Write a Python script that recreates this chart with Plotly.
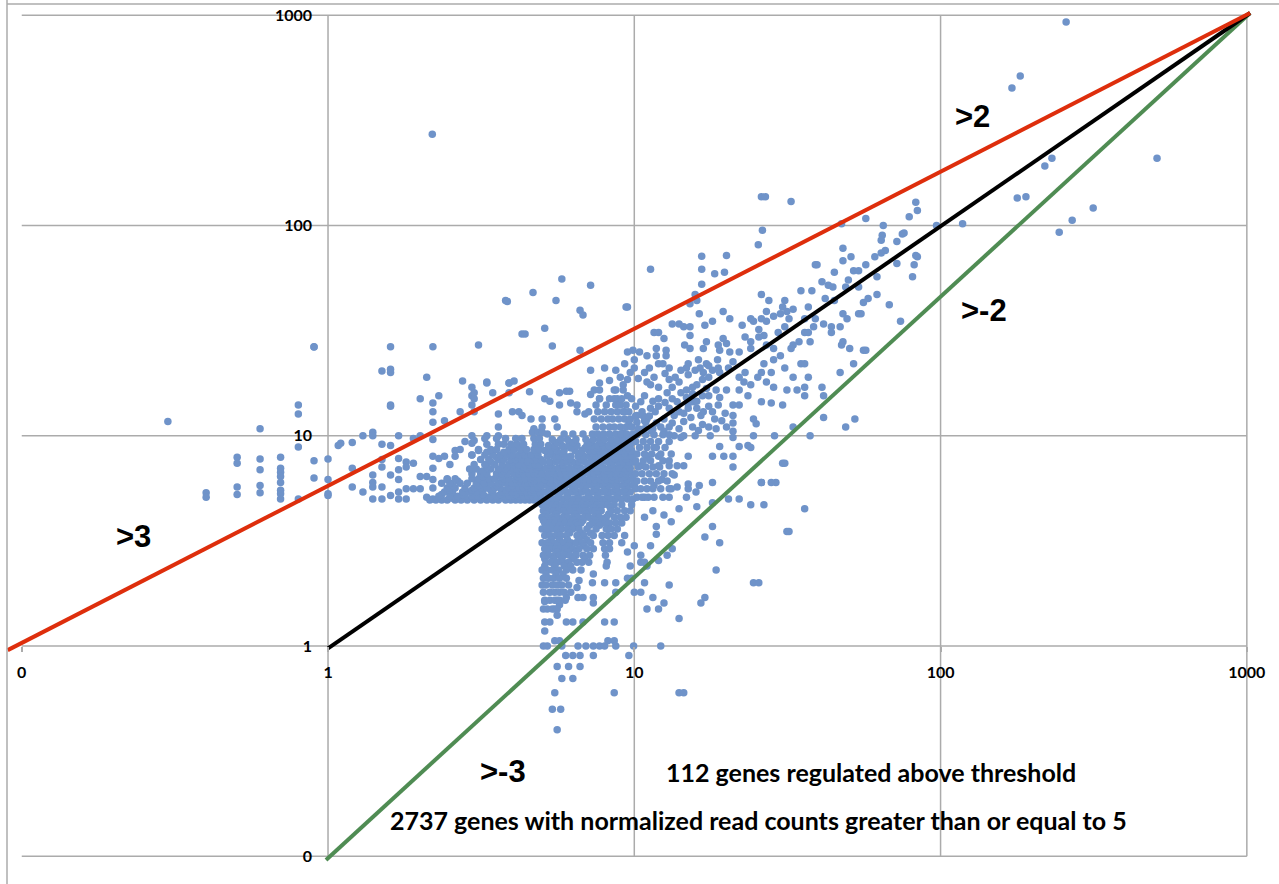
import plotly.graph_objects as go

tick_vals = [0.1, 1, 10, 100, 1000]
tick_text = ["0", "1", "10", "100", "1000"]

outliers = [(257,929),(182,514),(171,451),(509,209),(231,209),(219,192),(190,137),(178,135),(315,121),(269,106),(244,93),
 (118,102),(97,100),(83,129),(84,118),(79,110),(75,91),(83,72),(2.19,272),(26,137),(26.8,137),(32.5,130)]

upper_right = [(11.3,62),(16.6,71.5),(20,72),(16.6,62),(18.3,59),(19.7,60),(16.6,52.5),(15.8,47),(15.2,42.5),(16,44),(9.5,41),
 (26.2,95),(25.4,81),(47.5,102),(57,108),(65,100),(76,92),(64.5,90),(64,85),(72,84),(66,76),(64,74),(61,71),(48,78),(51,71),(48,68),
 (84,71),(82,65),(72,66),(81,57),(57,65),(39,65),(39.5,65),(45,60),(52,61),(54,61),(62,57),(50,55),(41,54),(43,52),(44.5,51),(49,51),(54,51),
 (35,49),(38,49),(26,47),(27.5,44),(31,44),(30.5,41),(42,45),(45,44),(62,47),(58,45),(56,43),(68,42),(37,41),(33,40),(31.5,39),(30,38),(27,39),
 (28.5,37),(19.5,39),(16.3,38),(20.5,36),(24,36),(26,36),(36,36),(39,36),(32,36),(48,38),(49.5,36),(54,38),(55,38),(18,35),(17,33.5),(13.3,34),(14,34),
 (14.5,33),(15.2,33),(22.5,33.5),(24.5,35),(27,35),(31,33),(38.5,33),(36,31),(37,31),(41.5,34),(44,33),(44,31),(47,33),(74,35),(25.5,32),(26.5,30),(29.5,31),
 (23,29.5),(25.5,29.5),(24,28),(27,27),(11.6,31),(12,31),(12.5,29),(15.2,30),(17.2,28),(19.5,29),(18.8,27),(20,27.5),(34.5,28),(37.5,28),(33,27),(32.5,26),
 (48,28),(47.5,27),(50.5,26),(56,25.5),(57,25.5),(9.9,25.5),(11.8,26),(12.7,25.5),(14.6,27),(15.2,26),(16.8,26),(19,25.5),(20.5,25),(22,25),(24,26),(28.5,26),
 (30,24),(11,24),(11.8,24),(12.7,24),(16.2,23),(17.2,22),(18.7,23),(21,22.5),(26.5,22),(28.5,23),(35,22),(36,22),(52,22),(31,21),(47,20),(11.2,21),(12,22),(12.4,22),
 (13,21),(14.8,21),(9.3,22),(10,23),(15,22),(18,20.5),(16.8,20),(20.3,21),(19,20),(23,20),(26,20),(28,20),(33,19),(37,19),(25.3,19),(27,18),(22,19),(22.8,18),(24,17.5),
 (28.5,17),(36,17),(41,17),(31.5,16.5),(34,16.5),(41.5,15.5),(36,15.5),(22,16.5),(23.5,15.5),(26,14.5),(28,14.3),(30.5,14),(41.5,12.2),(52.5,12),(49,11),(33,11),(24.5,12),(25,11.4),
 (28.7,10),(37.5,10),(24.5,10),(30.5,7.4),(31,7.4),(26,6),(29,6),(22,5)]

middle_right = [(9.5,18.5),(10.3,18.7),(11,18),(11.3,17.5),(12,17),(13,18.5),(14,18),(13.3,17),(14.8,16.5),(15.5,17),(16,17.5),(16.7,18.5),(17.5,19),(18.5,16.5),(20,16.5),(19,15.2),
 (10.8,15.5),(9.5,15.5),(12,15),(13.3,15),(14.8,15.2),(16.7,15.5),(17.5,15.5),(17.5,13.8),(18.8,14),(21,14),(22,14),(18,13),(21,12.5),(18.3,12),(21,11.5),(20,11),(21,10.5),(21,9.8),
 (17.7,10),(15.8,10),(14.5,10),(13.5,10),(12,13.8),(11.3,13.5),(13,13.5),(10.1,13.8),(10.6,13),(11.7,13),(12.5,12),(14,13),(15,13.5),(16,13.5),(16.5,12.5),(15.3,12.2),(14.5,11.7),
 (13.3,11.5),(12.2,11),(15.5,11),(16.7,11.3),(17.5,11),(14,10.8),(11.4,10.5),(10.6,10.7),(9.3,13),(9.6,11.5),(9.2,10.3),
 (19,8.9),(22,8.9),(23.5,9),(24,8.8),(18,8),(19.6,8),(21,8),(21,7.1),(18,6),(16.3,5.8),(15,8),(14.5,7.2),(13.8,7.2),(13,7.2),(12,8),(11.6,8.8),(14.2,9.8),(15,5.9),(15,5.6),(13.5,6.5),
 (12,7.2),(12.3,6.2),(11,8),(10.5,7.2),(9.8,7.5),(9.3,6.7),(10,5.8),(11.6,5.8),(13.2,5.6),(13.8,5.7),(15.9,5.4),(10.8,5.1),(13,5.1),(14.8,5.1)]

upper_fill = [(10.5,14.5),(11.5,14.6),(12.6,14.4),(13.8,14.5),(15.6,14.5),(10.2,12.5),(11,12),(13.5,12.5),(14.5,12.8),(16.8,13),(12.8,16),(14.2,16),(15.5,15.8),(17.2,16.8),(13.6,19),(15,19.5),
 (15.8,20.5),(14.2,20.5),(16.4,21),(17.5,21.5),(18.8,21),(10.8,20),(12.6,19.8),(11.6,19),(9.2,17.5),(9,19),(10,21),(10.8,11.8),(11.8,11.5),(16.2,10.6),(18.5,10.8),(19.3,11.8),(19.8,12.8),(16,14.6),(15,14.2),(13,11),(12.5,10.5)]

lower_right = [(24.5,2),(25.5,2),(31.5,3.5),(32,3.5),(36,4.5),(18.5,2.3),(17,3.3),(18,3.7),(19,3.1),(17,1.7),(16.5,1.6),(14,1.35),(14,0.6),(14.5,0.6),(12.2,1),(11,1.5),(12.5,1.6),(13,1.95),
 (13.3,2.9),(12,2.55),(11,2.4),(11.3,3),(10.5,2.5),(26,6),(28,6),(20.3,5),(24,4.7),(26.5,4.7),(14,4.5),(12.5,4.2),(11.5,4.4),(13.2,3.9),(10.8,4.1),(11.8,3.7),(16,4.6),(18,4.8)]

low_tail = [(5.6,.4),(5.4,.5),(5.75,.5),(5.5,.6),(8.6,.6),(5.8,.7),(6.3,.7),(5.6,.8),(6.1,.8),(6.65,.8),(5.97,.9),(6.3,.9),(6.65,.9),(7.35,.9),(9.6,.9),
 (5.05,1),(5.2,1),(5.8,1),(6.55,1),(6.95,1),(7.35,1),(7.7,1),(8,1),(8.7,1),(9.95,1),(5.5,1.06),(5.7,1.06),(8.2,1.06),(8.6,1.06),(5.1,1.18),(5.1,1.3),(5.3,1.3),(6,1.3),(6.3,1.3),(6.8,1.3),(8,1.3),(8.6,1.3),(5.6,1.4),
 (5.05,1.5),(5.5,1.5),(5.7,1.57),(5.6,1.65),(5.1,1.63),(6,1.7),(6.55,1.7),(6.8,1.7),(7.35,1.7),(7.35,1.6),(8.7,1.8),(10,1.8),(10.5,1.8),(11.5,1.7),(12,1.5),(10.8,2),(8.7,2),(8,2),(7.3,2),(6.5,1.9),(6.6,2.05),(9.5,2.1),(9.8,2.1),
 (9.7,2.4),(7.35,2.2),(8.1,2.4),(10.5,2.7),(10.8,2.5),(10,3),(9.5,2.8),(11.8,3.4),(12.8,2.7)]

left_tail = [(.3,11.7),(.4,5.35),(.4,5.1),(.505,7.9),(.505,7.4),(.505,5.7),(.505,5.25),(.6,10.8),(.6,7.75),(.6,6.9),(.6,5.8),(.6,5.35),(.7,7.9),(.7,7),(.7,6.7),(.7,6.4),(.7,6),(.7,5.5),(.7,5.3),(.7,5),
 (.8,14),(.8,12.7),(.8,8.85),(.8,5),(.9,26.4),(.9,7.6),(.9,6.3),(1,7.75),(1,6.2),(1,5.2),(1.08,9),(1,5.3),(1.1,9.2),(1.2,9.3),(1.2,7),(1.2,5.7),(1.3,10),(1.3,5.4),(1.4,10.4),(1.4,10),(1.4,6.5),(1.4,6),(1.4,5.7),(1.4,5),
 (1.5,9.1),(1.5,7.7),(1.5,7.1),(1.5,5.7),(1.5,5),(1.6,14),(1.6,9),(1.6,6.5),(1.6,5.2),(1.7,10),(1.7,7.8),(1.7,6.9),(1.7,6.2),(1.7,5.4),(1.7,5),(1.8,7.5),(1.8,7.1),(1.8,5.6),(1.8,5),(1.9,7.4),(1.9,5.6),(1.9,9.7),
 (2,15),(2,10),(2,6.4),(2,5.6),(2.1,6.4),(2.1,5.1),(2.2,14.3),(2.2,13),(2.2,11.6),(2.2,9.6),(2.2,8),(2.2,7),(2.2,6.2),(2.2,5),(2.3,7.8),(2.4,11.8),(2.4,8),(2.5,7.3),(2.45,6.2),(2.6,8.5),(2.6,8),(2.7,13),(2.7,8.6),
 (2.95,17),(2.95,15.5),(2.95,14),(2.8,9.4),(2.95,10),(2.95,9.2),(3,9.5),(2.95,8.1),(3.1,8.5),(3.3,18),(3.45,16),(3.6,12.7),(3.6,11),(3.3,10),(3.6,10),(3.9,17.8),(3.9,16),(4,13),(4.2,13),(4.3,12.5),(4.55,16.2),(4.6,12),(4.7,10.8),
 (5.1,15),(5.3,14.6),(5.7,16),(6,16.3),(6.15,16.3),(5.7,14),(6.2,14.3),(6.5,14),(5,12),(5.5,12),(6.5,13),(6.9,12.7),(7.4,16.5),(7.7,16.5)]

upper_left = [(5.8,55.6),(4.67,48),(3.8,44),(3.85,43.5),(5.55,44),(7.2,52),(9.4,41),(6.65,39.5),(6.8,37.5),(4.3,30.5),(4.4,30.5),(5.1,32.5),(5.4,26.7),(3.1,27),(2.2,26.5),(1.6,26.5),(.9,26.5),(6.65,25.5),(2.1,19),
 (1.6,20.7),(1.5,20.3),(1.6,20),(2.75,18.2),(3.3,17.8),(3.9,17.8),(4.05,18.2),(3,16),(3,15),(2.3,15.5),(1.6,13.8),(3,13),(7.7,17.8),(8.3,18.3),(8.8,15),(9.7,20),(9.5,25),(8.7,20.5),(7.2,20.5),(8,21),(10.4,25),(8.7,16.5),(7.7,15),(7.2,15.7)]

hband_y = [4.95,5.05,5.15,5.25,5.4,5.5,5.65,5.8,5.95,6.1,6.25,6.4,6.6,6.8,6.95,7.1,7.3,7.5,7.7,7.9,8.1,8.35,8.6,9.1,9.7,10.4]
hband_x = [
 [2.15,2.25,2.35,2.45,2.6,2.72,2.85,3.0,3.15,3.3,3.45,3.6,3.8,3.95,4.1,4.25,4.4,4.55,4.7,4.85],
 [2.55,3.05,3.5,4.0,4.5],
 [2.3,2.5,2.65,2.8,2.95,3.1,3.25,3.4,3.55,3.75,3.9,4.05,4.2,4.35,4.5,4.65,4.8,4.95],
 [2.35,2.75,3.2,3.65,4.1,4.6],
 [2.4,2.55,2.75,2.9,3.05,3.2,3.45,3.7,3.85,4.0,4.15,4.3,4.45,4.6,4.75,4.9],
 [2.5,2.95,3.4,3.8,4.25,4.7],
 [2.2,2.45,2.6,2.8,3.0,3.15,3.3,3.5,3.65,3.9,4.05,4.2,4.35,4.5,4.7,4.85],
 [2.55,3.1,3.55,4.0,4.45,4.9],
 [2.35,2.5,2.7,2.85,3.05,3.25,3.4,3.6,3.8,4.0,4.15,4.3,4.5,4.65,4.8,4.95],
 [2.65,3.2,3.7,4.2,4.7],
 [2.45,2.6,2.95,3.1,3.35,3.5,3.75,3.9,4.1,4.25,4.4,4.6,4.75,4.9],
 [3.2,3.65,4.15,4.65],
 [2.95,3.15,3.3,3.55,3.7,3.85,4.05,4.2,4.35,4.55,4.7,4.85],
 [3.2,3.75,4.25,4.75],
 [2.9,3.05,3.4,3.6,3.8,3.95,4.15,4.3,4.5,4.65,4.8,4.95],
 [3.3,3.85,4.35,4.85],
 [3.0,3.25,3.5,3.7,3.9,4.05,4.2,4.4,4.55,4.75,4.9],
 [3.4,4.0,4.5],
 [3.15,3.35,3.6,3.75,3.95,4.1,4.3,4.5,4.65,4.8,4.95],
 [3.55,4.15,4.75],
 [2.95,3.25,3.45,3.65,3.85,4.0,4.2,4.4,4.6,4.85],
 [3.3,3.75,4.3,4.8],
 [3.1,3.4,3.55,3.9,4.05,4.25,4.45,4.7,4.9],
 [3.3,3.6,3.75,3.95,4.15,4.35,4.75,4.95],
 [3.25,3.55,3.8,4.1,4.3,4.7,4.9],
 [4.65,4.85,5.0],
]

core_y = [5.0,5.2,5.4,5.6,5.8,6.0,6.2,6.4,6.6,6.8,7.0,7.25,7.5,7.75,8.0,8.25,8.5,8.75,9.0,9.3,9.6,10.2,11,12,13,14,15,16.5]
core_x = [
 [5.0,5.2,5.4,5.6,5.85,6.1,6.35,6.6,6.9,7.2,7.5,7.8,8.1,8.4,8.7,9.1,9.5,9.9],
 [5.25,5.65,6.05,6.55,7.1,7.6,8.2,8.8,9.4],
 [5.1,5.3,5.5,5.75,6.0,6.25,6.5,6.75,7.05,7.35,7.65,7.95,8.3,8.6,8.95,9.3,9.7],
 [5.4,5.9,6.4,6.9,7.45,8.05,8.7,9.35],
 [5.0,5.2,5.45,5.7,5.95,6.2,6.45,6.7,7.0,7.3,7.6,7.9,8.25,8.55,8.85,9.2,9.6,9.95],
 [5.3,5.8,6.3,6.8,7.4,8,8.65,9.3],
 [5.1,5.35,5.6,5.85,6.1,6.35,6.6,6.85,7.15,7.45,7.75,8.1,8.45,8.8,9.15,9.5,9.9],
 [5.2,5.7,6.25,6.7,7.3,7.9,8.5,9.3],
 [5.0,5.25,5.5,5.75,6.0,6.25,6.5,6.8,7.1,7.4,7.7,8.0,8.35,8.7,9.05,9.4,9.8],
 [5.4,5.95,6.45,7.0,7.55,8.15,8.8,9.5],
 [5.15,5.4,5.65,5.9,6.15,6.4,6.7,7.0,7.3,7.6,7.95,8.3,8.6,8.9,9.3,9.7],
 [5.3,5.85,6.5,7.1,7.7,8.4,9.0,9.5],
 [5.05,5.3,5.55,5.8,6.05,6.3,6.6,6.9,7.2,7.55,7.85,8.2,8.5,8.85,9.2,9.6,9.95],
 [5.6,6.15,6.7,7.35,8.0,8.65,9.4],
 [5.2,5.45,5.7,5.95,6.2,6.55,6.85,7.15,7.5,7.8,8.1,8.45,8.75,9.1,9.5,9.85],
 [5.3,5.85,6.6,7.3,7.95,8.55,9.3],
 [5.1,5.35,5.6,5.9,6.4,6.75,7.1,7.4,7.7,8.05,8.35,8.7,9.0,9.4,9.8],
 [5.5,6.2,6.9,7.55,8.2,8.85,9.55],
 [5.25,5.5,5.8,6.1,6.5,7.0,7.3,7.6,7.9,8.25,8.6,8.95,9.3,9.7],
 [5.6,6.3,7.15,7.8,8.5,9.15,9.8],
 [5.4,5.75,6.05,6.45,6.95,7.35,7.7,8.0,8.4,8.8,9.2,9.6],
 [5.2,5.9,6.3,6.8,7.3,7.6,7.95,8.3,8.7,9.05,9.45,9.9],
 [5.0,5.6,7.5,7.9,8.3,8.6,9.0,9.4,9.8],
 [7.4,7.8,8.2,8.5,8.9,9.3,9.7],
 [7.1,7.6,8.0,8.4,8.8,9.2,9.6],
 [7.5,8.1,8.7,9.0,9.4],
 [7.7,8.3,8.6,9.1,9.8],
 [8.6,9.2],
]

right_y = [5.1,5.6,6.1,6.6,7.1,7.6,8.2,8.8,9.4,10.1,10.8,11.6,12.4]
right_x = [
 [10.2,10.6,11.1,11.6,12.4],[10.1,10.5,11,11.5,12.2,13],[10.2,10.8,11.3,12,12.8],[10.1,10.6,11.2,11.8,12.5,13.3],
 [10.3,10.9,11.5,12.1],[10.1,10.7,11.3,12.4,13],[10.2,10.8,11.4,12.2,13.2],[10.4,11,11.8,12.6],[10.1,10.7,11.3,12,13],
 [10.2,10.9,11.6,12.4,13],[10.3,10.8,11.5],[10.2,10.9],[10.1,10.7,11.2],
]

vband_y = [4.7,4.55,4.4,4.25,4.1,3.95,3.85,3.75,3.6,3.45,3.35,3.2,3.1,3,2.9,2.8,2.7,2.6,2.5,2.4,2.3,2.2,2.1,1.95,1.8,1.65,1.5]
vband_x = [
 [5.0,5.2,5.4,5.6,5.8,6.0,6.25,6.5,6.75,7.0,7.3,7.55,7.9,8.2,8.6,9.1,9.8],
 [5.1,5.5,5.95,6.4,6.85,7.35,7.75,8.35],
 [5.05,5.25,5.45,5.65,5.9,6.15,6.4,6.65,6.9,7.2,7.45,7.8,8.4,8.8,9.3,9.7],
 [5.15,5.55,5.95,6.4,6.95,7.55,8.25],
 [5.0,5.2,5.4,5.6,5.85,6.05,6.3,6.55,6.85,7.1,7.4,7.7,8.1,8.6,9.0,9.4],
 [5.05,5.45,5.85,6.35,6.8,7.45,7.95],
 [5.1,5.3,5.5,5.75,5.95,6.2,6.45,6.7,7.3,7.6,8.0,8.3,8.7,9.1],
 [5.25,5.7,6.15,6.55,7.15,7.7],
 [5.0,5.2,5.4,5.6,5.8,6.05,6.3,6.6,7.0,7.5,8.1,8.4,8.8],
 [5.2,5.65,6.15,6.7,7.2],
 [5.1,5.3,5.55,5.75,6.0,6.5,6.85,7.35,7.85,8.2,8.6,9.3],
 [5.35,5.7,6.05,6.6,7.0],
 [5.0,5.2,5.45,5.85,6.2,6.45,6.75,7.2,7.9,8.3,9.1],
 [5.25,5.6,6.1,6.85],
 [5.1,5.35,5.55,5.75,5.95,6.3,6.6,7.0,7.35,8.0,8.3],
 [5.2,5.6,6.05,6.45],
 [5.05,5.25,5.5,5.7,5.9,6.15,6.45,6.8,7.15,8.05],
 [5.1,5.45,5.8,6.3,6.9],
 [5.15,5.35,5.6,5.85,6.1,6.5,6.75,7.1,8.15],
 [5.1,5.5,5.9,6.2],
 [5.0,5.2,5.4,5.65,6.0,6.3,6.7],
 [5.15,5.55,5.85],
 [5.05,5.25,5.45,5.7,6.0],
 [5.0,5.15,5.4,5.6,5.8,6.1],
 [5.05,5.3,5.5,5.7,5.9,6.2],
 [5.1,5.3,5.5,5.7,5.95],
 [5.2,5.4,5.6],
]

red_x, red_y = [0.09, 1025], [0.956, 1025]
black_x, black_y = [1, 1025], [0.975, 1025]
green_x, green_y = [0.985, 1025], [0.096, 1025]

pairs = outliers + upper_right + middle_right + upper_fill + lower_right + low_tail + left_tail + upper_left
for ys, xs in ((hband_y, hband_x), (core_y, core_x), (right_y, right_x), (vband_y, vband_x)):
    for y, row in zip(ys, xs):
        pairs += [(x, y) for x in row]
point_x = [p[0] for p in pairs]
point_y = [p[1] for p in pairs]

GRID = "#ababab"
fig = go.Figure()
for t in tick_vals[1:]:
    fig.add_trace(go.Scatter(x=[t, t], y=[0.1, 1000], mode="lines", line=dict(color=GRID, width=1.5), hoverinfo="skip"))
for t in tick_vals:
    fig.add_trace(go.Scatter(x=[0.1, 1000], y=[t, t], mode="lines", line=dict(color=GRID, width=1.5), hoverinfo="skip"))
fig.add_trace(go.Scatter(x=point_x, y=point_y, mode="markers",
                         marker=dict(size=7.5, color="#6F93C9", line=dict(width=0))))
fig.add_trace(go.Scatter(x=green_x, y=green_y, mode="lines", line=dict(color="#4F8C53", width=4)))
fig.add_trace(go.Scatter(x=black_x, y=black_y, mode="lines", line=dict(color="#000000", width=4)))
fig.add_trace(go.Scatter(x=red_x, y=red_y, mode="lines", line=dict(color="#DE2E0C", width=4)))

label_font = dict(family="Lato", size=16, color="#000000", weight="bold")
fig.update_layout(
    width=1279, height=884, autosize=False, showlegend=False,
    margin=dict(l=0, r=0, t=0, b=0), paper_bgcolor="white", plot_bgcolor="white",
    xaxis=dict(type="log", range=[-1.071, 3.105], anchor="free", position=0.2692,
               tickmode="array", tickvals=tick_vals, ticktext=tick_text, showgrid=False, zeroline=False,
               showline=False, ticks="outside", ticklen=5, tickcolor=GRID, tickwidth=1.5,
               ticklabelstandoff=7, tickfont=label_font),
    yaxis=dict(type="log", range=[-1.132, 3.0726], anchor="free", position=0.2565,
               tickmode="array", tickvals=tick_vals, ticktext=tick_text, showgrid=False, zeroline=False,
               showline=False, ticks="", ticklabelstandoff=16, tickfont=label_font),
    shapes=[
        dict(type="line", xref="paper", yref="paper", x0=7/1279, x1=7/1279, y0=0, y1=1, line=dict(color=GRID, width=1.5)),
        dict(type="line", xref="paper", yref="paper", x0=7/1279, x1=1, y0=1-4/884, y1=1-4/884, line=dict(color=GRID, width=1.5)),
    ],
)

def note(text, px, py, font):
    fig.add_annotation(text=text, xref="paper", yref="paper", x=px/1279, y=1-py/884,
                       showarrow=False, xanchor="center", yanchor="middle", font=font)

arrow_font = dict(family="Liberation Sans", size=31, color="#000000", weight="bold")
body_font = dict(family="Lato", size=25, color="#000000", weight="bold")
note(">2", 972, 117, arrow_font)
note(">-2", 984, 310, arrow_font)
note(">3", 133, 536, arrow_font)
note(">-3", 503, 771, arrow_font)
note("112 genes regulated above threshold", 871, 772, body_font)
note("2737 genes with normalized read counts greater than or equal to 5", 758, 820, body_font)

fig.write_html("out.html", config=dict(displayModeBar=False),
               post_script="document.body.style.margin='0';document.body.style.overflow='hidden';")
